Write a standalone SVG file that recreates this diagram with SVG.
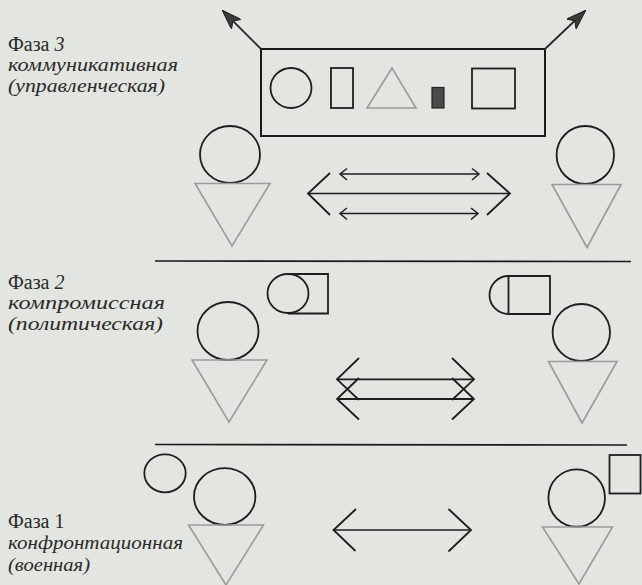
<svg xmlns="http://www.w3.org/2000/svg" width="642" height="585" viewBox="0 0 642 585">
<defs>
<marker id="headFill" viewBox="0 0 20 14" refX="19" refY="7" markerWidth="20" markerHeight="14" markerUnits="userSpaceOnUse" orient="auto">
<path d="M0,0 L20,7 L0,14 L5,7 Z" fill="#3a3a3a" stroke="#222" stroke-width="1"/>
</marker>
</defs>
<style>
.bg{fill:#e3e5e0}
.ln{fill:none;stroke:#1e1e1e;stroke-width:1.8}
.thin{fill:none;stroke:#1e1e1e;stroke-width:1.5}
.tri{fill:none;stroke:#9a9a9a;stroke-width:1.6}
.sep{fill:none;stroke:#1a1a1a;stroke-width:1.6}
.ph{font-family:"Liberation Serif","DejaVu Serif",serif;font-size:20px;fill:#2a2a2a}
.it{font-family:"Liberation Serif","DejaVu Serif",serif;font-size:19px;font-style:italic;fill:#2a2a2a}
</style>
<rect class="bg" x="0" y="0" width="642" height="585"/>

<g id="label-phase3">
<text class="ph" x="8" y="51">Фаза <tspan font-style="italic">3</tspan></text>
<text class="it" x="8" y="71" textLength="170" lengthAdjust="spacingAndGlyphs">коммуникативная</text>
<text class="it" x="8" y="92" textLength="157" lengthAdjust="spacingAndGlyphs">(управленческая)</text>
</g>
<g id="label-phase2">
<text class="ph" x="8" y="289">Фаза <tspan font-style="italic">2</tspan></text>
<text class="it" x="8" y="309" textLength="157" lengthAdjust="spacingAndGlyphs">компромиссная</text>
<text class="it" x="8" y="330" textLength="155" lengthAdjust="spacingAndGlyphs">(политическая)</text>
</g>
<g id="label-phase1">
<text class="ph" x="8" y="528">Фаза 1</text>
<text class="it" x="8" y="549" textLength="175" lengthAdjust="spacingAndGlyphs">конфронтационная</text>
<text class="it" x="8" y="571" textLength="82" lengthAdjust="spacingAndGlyphs">(военная)</text>
</g>

<g id="separators">
<line class="sep" x1="155" y1="261" x2="631" y2="261.5"/>
<line class="sep" x1="155" y1="444.5" x2="627" y2="445"/>
</g>

<!-- Phase 3 -->
<g id="p3-box">
<rect x="261" y="49" width="284" height="87" fill="none" stroke="#1a1a1a" stroke-width="2"/>
<ellipse class="ln" cx="291" cy="88" rx="20.5" ry="20"/>
<rect class="ln" x="331" y="68" width="22" height="40"/>
<polygon class="tri" points="392,68 367,108 416,108"/>
<rect x="432" y="87.5" width="12" height="20.5" fill="#4a4a4a" stroke="#222" stroke-width="1.2"/>
<rect class="ln" x="472" y="68.5" width="43" height="40"/>
</g>
<g id="p3-left">
<ellipse class="ln" cx="230" cy="154.5" rx="30" ry="28.5"/>
<polygon class="tri" points="195,183.5 270,183.5 232,246"/>
</g>
<g id="p3-right">
<ellipse class="ln" cx="585.3" cy="155" rx="28.7" ry="29"/>
<polygon class="tri" points="552,184.5 621,184.5 587,247.5"/>
</g>

<!-- Phase 2 -->
<g id="p2-left-symbol">
<ellipse class="ln" cx="288" cy="293.5" rx="20.5" ry="19.5"/>
<path class="ln" d="M288,274 H328 V313.5 H288"/>
</g>
<g id="p2-left">
<ellipse class="ln" cx="228" cy="331" rx="30.5" ry="29"/>
<polygon class="tri" points="192,360 267,360 229,422"/>
</g>
<g id="p2-right-symbol">
<path class="ln" d="M508.5,276 H550 V314 H508.5 Z"/>
<path class="ln" d="M508.5,276 A19,19 0 0 0 508.5,314"/>
</g>
<g id="p2-right">
<ellipse class="ln" cx="581.3" cy="332.5" rx="28.7" ry="28.5"/>
<polygon class="tri" points="548.5,361.5 617,361.5 582,423"/>
</g>

<!-- Phase 1 -->
<g id="p1-left-symbol">
<ellipse class="ln" cx="165" cy="473.3" rx="20.7" ry="19"/>
</g>
<g id="p1-left">
<ellipse class="ln" cx="224.7" cy="496.5" rx="30.7" ry="28.3"/>
<polygon class="tri" points="188.5,525 263.5,525 226,585"/>
</g>
<g id="p1-right-symbol">
<rect class="ln" x="609.5" y="455" width="31" height="38.5"/>
</g>
<g id="p1-right">
<ellipse class="ln" cx="576.7" cy="498" rx="28.3" ry="28.7"/>
<polygon class="tri" points="542.5,527 612.5,527 579,584"/>
</g>

<g id="connectors">
<line x1="261" y1="49" x2="223" y2="11" stroke="#2a2a2a" stroke-width="1.8" marker-end="url(#headFill)"/>
<line x1="545" y1="49" x2="585" y2="11" stroke="#2a2a2a" stroke-width="1.8" marker-end="url(#headFill)"/>
<line class="thin" x1="340" y1="174" x2="479" y2="174"/>
<path class="thin" d="M347,168.5 L340,174 L347,180 M472,168.5 L479,174 L472,180"/>
<line class="thin" x1="308" y1="193.5" x2="510" y2="193.5"/>
<path class="ln" d="M330,173 L308,193.5 L330,215 M487,173 L510,193.5 L487,215"/>
<line class="thin" x1="340" y1="213.5" x2="478" y2="213.5"/>
<path class="thin" d="M347,208 L340,213.5 L347,219.5 M471,208 L478,213.5 L471,219.5"/>
<line class="ln" x1="337" y1="379.3" x2="474" y2="379.3"/>
<line class="ln" x1="337" y1="399" x2="474" y2="399"/>
<path class="ln" d="M359,358 L337,379.3 L359,400 M359,378 L337,399 L359,419.5 M452,358 L474,379.3 L452,400 M452,378 L474,399 L452,419.5"/>
<line class="thin" x1="333.5" y1="530" x2="471" y2="530"/>
<path class="ln" d="M356,509 L333.5,530 L355.5,551 M448.5,509 L471,530 L448.5,551.5"/>
</g>
</svg>
